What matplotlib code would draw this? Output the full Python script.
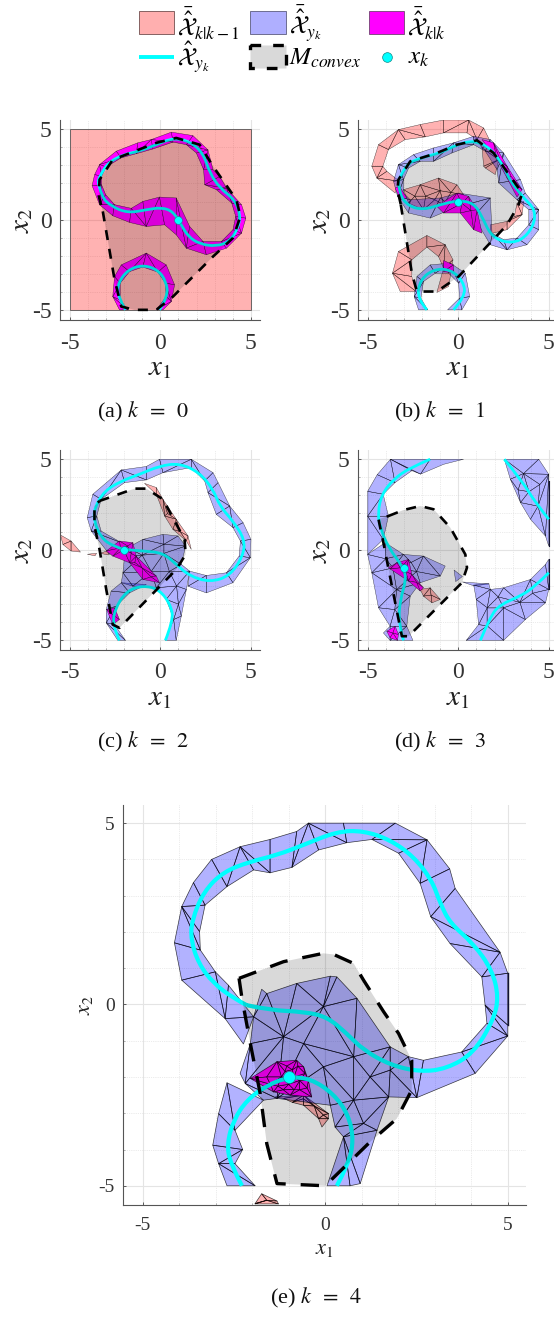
import numpy as np
import matplotlib
matplotlib.use('Agg')
import matplotlib.pyplot as plt
import matplotlib.tri as mtri
from matplotlib.collections import PolyCollection
from matplotlib.patches import Rectangle, Polygon, PathPatch
from matplotlib.path import Path

plt.rcParams['font.family'] = ['Liberation Serif', 'DejaVu Serif']
plt.rcParams['mathtext.fontset'] = 'stix'
plt.rcParams['axes.unicode_minus'] = False

W, H = 554, 1317
RED = (1, 0, 0, 0.3)
BLUE = (0, 0, 1, 0.3)
MAG = (1, 0, 1, 1)
CYAN = '#00FFFF'

ticks = [-5, 0, 5]
minor_ticks = [-4, -3, -2, -1, 1, 2, 3, 4]

# k = 0
a_marker = (1, 0)
a_square = [(-5, -5), (5, -5), (5, 5), (-5, 5)]
a_center = [(-3.43,2.12),(-3.26,1.29),(-2.71,0.74),(-1.79,0.37),(-0.77,0.55),(0.06,0.68),(0.70,0.46),(1.16,-0.28),
            (1.53,-0.92),(2.17,-1.34),(3.09,-1.47),(3.83,-1.20),(4.29,-0.46),(4.42,0.28),(4.11,1.10),(3.28,1.75),
            (2.73,2.58),(2.36,3.68),(1.62,4.33),(0.70,4.51),(-0.22,4.14),(-1.14,3.78),(-2.06,3.59),(-2.89,3.13),
            (-3.35,2.39),(-3.43,2.12)]
a_ring = [(-1.92,-4.97),(-2.34,-4.24),(-2.34,-3.50),(-1.79,-2.76),(-0.96,-2.49),(-0.13,-2.76),(0.33,-3.41),(0.42,-4.24),(-0.04,-4.97)]
a_mag_outer = [(-3.76,1.88),(-3.35,0.83),(-2.62,0.22),(-1.69,-0.15),(-0.77,-0.37),(0.24,-0.28),(0.88,-0.83),(1.44,-1.57),
               (2.54,-1.93),(3.65,-1.57),(4.48,-0.74),(4.72,0.09),(4.48,0.83),(3.65,1.75),(3.28,2.39),(2.91,2.76),
               (2.63,3.85),(1.80,4.64),(0.61,4.83),(-0.50,4.42),(-1.24,4.24),(-2.43,3.78),(-3.35,3.04),(-3.62,2.49),(-3.76,1.88)]
a_mag_inner = [(-3.24,1.93),(-3.01,1.38),(-2.52,0.83),(-1.60,0.63),(-0.96,1.01),(-0.04,1.25),(0.88,1.20),(1.62,-0.37),
               (2.36,-1.20),(3.37,-1.20),(4.01,-0.55),(4.16,0.18),(3.94,0.92),(3.09,1.66),(2.45,1.93),(2.39,2.76),
               (1.99,3.68),(1.44,4.14),(0.70,4.28),(-0.41,3.90),(-1.33,3.64),(-2.16,3.41),(-2.98,2.91),(-3.24,2.39),(-3.24,1.93)]
a_ring_outer = [(-2.25,-4.97),(-2.62,-4.24),(-2.52,-3.13),(-2.15,-2.49),(-0.77,-1.84),(0.33,-2.49),(0.79,-3.59),(0.61,-4.51),(0.15,-4.97)]
a_ring_inner = [(-1.79,-4.97),(-2.21,-4.42),(-2.21,-3.50),(-1.69,-2.86),(-0.96,-2.61),(-0.13,-2.89),(0.28,-3.50),(0.33,-4.24),(-0.22,-4.97)]
a_hull = [(-3.17,0.46),(-2.52,-3.31),(-2.15,-4.79),(-1.42,-4.97),(-0.22,-4.97),(0.70,-4.24),(2.91,-2.03),(4.01,-1.01),
          (4.42,0.18),(4.20,1.10),(2.91,2.95),(2.17,4.14),(0.88,4.51),(-0.22,4.24),(-2.62,3.31),(-3.35,2.21),(-3.39,1.29)]

# k = 1
b_marker = (0, 1)
b_center = [(-3.30,2.12),(-3.24,1.38),(-2.74,0.74),(-1.92,0.55),(-0.99,0.83),(0,1.07),(0.85,0.92),(1.31,0.18),(1.77,-0.83),
            (2.50,-1.25),(3.43,-1.20),(4.16,-0.37),(4.25,0.55),(3.61,1.20),(2.87,2.12),(2.50,2.95),(1.77,3.96),(0.85,4.38),
            (-0.07,4.14),(-0.99,3.68),(-2.10,3.41),(-2.93,3.04),(-3.30,2.12)]
b_ring = [(-1.73,-4.97),(-2.28,-4.33),(-2.10,-3.31),(-1.36,-2.73),(-0.44,-2.73),(0.29,-3.41),(0.39,-4.24),(-0.26,-4.97)]
b_blue_outer = [(-3.57,2.12),(-3.30,3.04),(-2.47,3.59),(-1.36,3.96),(-0.26,4.24),(0.85,4.60),(1.77,4.42),(2.50,3.68),(3.43,2.21),
                (3.70,1.47),(4.44,0.55),(4.44,-0.55),(3.79,-1.38),(2.69,-1.66),(1.77,-1.38),(0.85,0.18),(-0.26,0.64),(-1.55,0.09),
                (-2.74,0.37),(-3.35,1.29),(-3.57,2.12)]
b_blue_inner = [(-3.02,2.21),(-2.74,2.85),(-2.10,3.22),(-1.36,3.22),(-0.35,3.68),(0.85,4.14),(1.49,3.78),(2.14,2.76),(2.23,2.03),
                (3.24,1.10),(3.89,0.55),(3.89,-0.28),(3.24,-1.01),(2.50,-1.10),(1.86,-0.74),(1.77,1.20),(0.02,1.47),(-0.99,1.20),
                (-2.65,1.10),(-3.02,1.47),(-3.02,2.21)]
b_ring_outer = [(-2.19,-4.97),(-2.43,-4.24),(-2.28,-3.13),(-1.55,-2.49),(-0.44,-2.39),(0.39,-2.95),(0.63,-4.24),(0.20,-4.97)]
b_ring_inner = [(-1.69,-4.97),(-2.06,-4.33),(-1.92,-3.41),(-1.27,-2.95),(-0.53,-2.95),(0.02,-3.50),(0.07,-4.33),(-0.59,-4.97)]
b_red_outer = [(-3.48,1.47),(-4.49,2.30),(-4.77,2.95),(-4.40,4.14),(-3.30,4.97),(-2.10,5.25),(-0.81,5.5),(0.57,5.5),(1.40,5.06),(1.80,4.24),(2.23,3.31),(2.04,2.49)]
b_red_inner = [(-3.24,2.12),(-3.94,2.67),(-4.16,2.95),(-3.85,3.87),(-2.93,4.42),(-1.82,4.57),(-0.81,4.79),(0.48,4.79),(1.03,4.42),(1.31,3.96),(1.40,2.95),(1.49,2.85)]
b_red2_outer = [(3.61,1.01),(3.52,0.28),(2.69,-0.55),(1.77,-0.77)]
b_red2_inner = [(3.24,0.92),(3.09,0.18),(2.69,-0.09),(1.77,-0.28)]
b_red_ring_outer = [(-3.20,-3.96),(-3.63,-2.95),(-3.30,-1.75),(-1.73,-0.87),(-0.72,-1.38),(-0.29,-2.21),(-0.53,-3.68)]
b_red_ring_inner = [(-2.32,-3.96),(-2.56,-3.13),(-2.56,-2.21),(-1.73,-1.51),(-1.09,-2.03),(-0.81,-2.67),(-1.18,-4.01)]
b_red_blob = [(-3.02,1.66),(-2.10,1.93),(-1.09,2.30),(-0.07,1.93),(0.29,1.38),(-0.81,0.83),(-1.92,0.55),(-2.74,0.92)]
b_red_blob_in = [(-1.8,1.3),(-1,1.6),(-0.4,1.5),(-2.4,1.3),(-1.3,1.1)]
b_mag1 = [(-1.18,0.74),(-0.07,1.47),(0.57,1.29),(1.03,0.55),(1.31,-0.74),(0.85,-0.55),(0.11,0.37),(-0.81,0.37)]
b_mag1_in = [(0.2,0.9),(0.7,0.5)]
b_mag2 = [(1.31,4.42),(1.95,4.24),(2.69,2.95),(3.52,1.66),(3.24,1.25),(2.69,2.30),(2.14,3.31)]
b_mag2_in = [(2.3,3.3),(2.9,2.4)]
b_mag3 = [(-3.48,1.75),(-3.24,1.84),(-2.84,1.20),(-3.20,1.10)]
b_mag4 = [(-0.81,-2.25),(-0.26,-2.49),(-0.26,-2.95),(-0.81,-2.85)]
b_hull = [(-3.17,0.83),(-2.56,-2.95),(-2.28,-3.96),(-1.18,-3.96),(0.02,-3.13),(2.69,-0.28),(3.33,0.83),(3.52,1.47),(2.87,2.39),
          (1.95,3.68),(1.03,4.38),(-0.07,4.14),(-1.18,3.68),(-2.65,3.22),(-3.30,2.21),(-3.35,1.66)]

# k = 2
c_marker = (-2, 0)
c_center = [(-2.01,0.02),(-0.96,-0.07),(0.15,-0.17),(0.88,-0.81),(1.62,-1.45),(2.73,-1.79),(3.83,-1.45),(4.57,-0.35),(4.66,0.57),
            (4.01,1.58),(3.28,2.41),(2.91,3.33),(2.17,4.25),(1.07,4.77),(-0.04,4.62),(-1.14,4.16),(-2.15,3.79),(-3.08,3.24),
            (-3.63,2.32),(-3.66,1.58),(-3.26,0.66),(-2.62,0.20),(-2.01,0.02)]
c_ring = [(-2.25,-5.0),(-2.62,-4.22),(-2.52,-3.30),(-1.88,-2.28),(-0.96,-1.97),(-0.04,-2.19),(0.61,-3.11),(0.70,-3.94),(0.28,-5.0)]
c_blue_outer = [(-2.80,-0.26),(-3.81,1.03),(-4.03,1.77),(-3.72,3.06),(-2.15,4.40),(-0.77,4.59),(-0.04,4.99),(1.71,4.99),(2.91,4.25),
                (3.19,3.70),(3.83,2.41),(4.57,1.49),(5.0,0.57),(4.97,-0.44),(4.01,-1.82),(2.54,-2.38),(1.53,-2.01)]
c_blue_inner = [(-2.15,0.39),(-3.26,1.03),(-3.50,1.86),(-3.26,2.78),(-1.97,3.70),(-0.77,3.85),(0.15,4.25),(1.71,4.53),(2.45,3.79),
                (2.63,3.15),(3.09,1.95),(4.01,1.22),(4.42,0.48),(4.35,-0.35),(3.65,-1.27),(2.54,-1.42),(1.62,-1.18)]
c_arm_outer = [(-2.34,-5.0),(-2.98,-4.03),(-2.98,-3.30),(-2.71,-2.28),(-2.15,-1.82)]
c_arm_inner = [(-1.92,-5.0),(-2.52,-4.13),(-2.43,-3.11),(-1.69,-2.38),(-0.77,-1.92)]
c_blob = [(-1.97,-0.35),(-1.79,0.11),(-0.96,0.57),(0.15,0.85),(0.98,0.76),(1.40,0.20),(1.16,-0.81),(1.62,-1.18),(1.44,-2.19),
          (1.16,-3.66),(0.88,-5.0),(0.28,-5.0),(0.74,-3.85),(0.33,-2.74),(-0.22,-2.10),(-1.51,-2.01),(-2.15,-1.82),(-2.06,-1.27)]
c_blob_in = [(-1,-0.3),(0.2,-0.2),(-0.5,-1.2),(0.5,-1.2),(0.9,-2.0),(1.0,-3),(0.2,0.3)]
c_hull = [(-3.35,2.69),(-1.42,3.37),(-0.77,3.37),(0.15,2.78),(1.34,0.57),(1.40,-0.26),(0.88,-1.09),(-2.25,-4.31),(-2.62,-4.13),
          (-2.98,-2.19),(-3.35,0.02),(-3.63,1.31),(-3.63,2.41)]
c_mag1 = [(-2.98,-0.07),(-2.25,0.48),(-1.51,0.39),(-1.33,-0.35),(-0.22,-1.45),(-0.04,-1.82),(-0.96,-1.64),(-1.69,-0.72),(-2.62,-0.35)]
c_mag1_in = [(-2,0),(-1.6,-0.2),(-1.0,-1.0),(-0.5,-1.5),(-1.4,-0.7),(-2.2,0.1),(-1.8,0.2)]
c_mag2 = [(-2.95,-3.30),(-2.52,-3.20),(-2.25,-3.85),(-2.62,-4.13)]
c_mag2_in = [(-2.6,-3.6)]
c_red1 = [(-0.87,3.66),(-0.22,3.43),(0.15,2.78),(0.88,1.68),(1.53,0.76),(1.71,0.02),(1.44,0.48),(0.70,1.12),(0.24,1.86),(-0.22,3.06)]
c_red1_in = [(0.4,2.0),(1.1,1.0)]
c_red2 = [(-5.5,0.81),(-4.92,0.48),(-4.40,-0.13),(-4.92,-0.07),(-5.37,0.29)]
c_red3 = [(-4.05,-0.22),(-3.54,-0.17),(-3.63,-0.31)]
c_red4 = [(-3.35,-0.17),(-2.80,0.02),(-2.89,-0.26)]

# k = 3
d_marker = (-3, -1)
d_line1 = [(-1.55,4.99),(-2.65,4.53),(-3.57,3.89),(-4.22,3.06),(-4.44,2.04),(-4.31,1.22),(-3.85,0.11),(-3.02,-0.99),(-2.87,-1.64),(-3.20,-2.74),(-3.30,-4.03),(-3.02,-5.0)]
d_line2 = [(2.54,4.99),(3.52,3.79),(4.25,2.60),(4.99,1.68)]
d_line3 = [(1.22,-5.0),(1.77,-3.66),(2.32,-3.02),(3.43,-2.56),(4.25,-2.01),(4.99,-1.27)]
d_tube_outer = [(-5.0,-0.26),(-5.0,1.85),(-5.0,3.22),(-4.47,4.14),(-3.74,4.99),(-1.55,4.99),(0.29,4.99)]
d_tube_inner = [(-4.14,0.57),(-3.85,1.85),(-4.14,3.06),(-3.49,3.70),(-2.56,4.36),(-2.08,4.17),(-0.81,4.71)]
d_blob = [(-5.0,-0.26),(-4.03,0.39),(-3.02,-0.26),(-1.92,-0.35),(-0.72,-0.90),(-0.99,-1.45),(-2.10,-1.82),(-2.65,-2.56),(-2.84,-4.22),
          (-2.50,-5.0),(-3.76,-5.0),(-4.13,-4.59),(-3.76,-4.22),(-4.40,-3.20),(-4.77,-1.27)]
d_blob_in = [(-3.6,-1),(-2.6,-0.7),(-3.4,-2.2),(-2.3,-1.2),(-3.5,-3.3),(-4,-0.5)]
d_tri = [(-0.26,-1.09),(0.20,-1.45),(-0.17,-1.73)]
d_sliver = [(0.20,-1.75),(1.68,-1.86),(0.85,-1.97)]
d_low = [(0.44,-5.0),(1.12,-4.13),(0.99,-2.74),(0.85,-1.95),(1.68,-1.86),(1.77,-2.19),(2.50,-2.10),(3.98,-1.64),(4.81,-0.81),(4.99,-0.53),
         (4.99,-2.19),(4.81,-2.93),(3.70,-3.85),(2.50,-5.0)]
d_low_in = [(1.6,-3.2),(2.5,-3.2),(3.4,-2.9),(1.6,-4.2),(2.2,-2.6),(4.1,-2.4)]
d_top = [(2.54,4.99),(4.44,4.99),(4.99,4.16),(4.99,0.20),(4.81,0.75),(3.98,1.68),(3.43,2.60),(2.87,3.89)]
d_top_in = [(3.6,4.2),(3.9,3.2),(4.4,2.4),(4.5,3.6),(3.3,3.3)]
d_edge1 = [(4.99,3.8),(4.99,0.2)]
d_edge2 = [(4.99,-0.53),(4.99,-2.19)]
d_hull = [(-3.85,1.86),(-3.02,2.19),(-2.10,2.41),(-1.36,2.23),(-0.44,1.22),(0.39,-0.26),(0.48,-0.99),(0.20,-1.82),(-2.74,-4.77),(-3.11,-4.77),
          (-3.66,-2.01),(-4.13,0.39),(-4.40,1.68)]
d_mag1 = [(-3.85,-0.99),(-3.39,-0.72),(-2.74,-0.53),(-2.56,-1.36),(-1.92,-2.10),(-2.10,-2.28),(-2.74,-1.73),(-3.76,-1.06)]
d_mag1_in = [(-3.2,-1.0),(-2.9,-1.2),(-3.0,-0.8),(-2.3,-1.8)]
d_mag2 = [(-3.94,-4.49),(-3.48,-4.22),(-3.30,-4.68),(-3.35,-5.0),(-3.76,-4.86)]
d_mag2_in = [(-3.6,-4.6)]
d_red = [(-2.10,-2.19),(-1.55,-2.10),(-0.99,-2.74),(-1.45,-2.93),(-1.92,-2.56)]
d_red_in = [(-1.5,-2.5)]

# k = 4
e_marker = (-1, -2)
e_center = [(-2.15,-0.02),(-1.51,-0.16),(-0.59,-0.20),(0.05,-0.34),(0.59,-0.80),(1.05,-1.26),(1.78,-1.67),(2.60,-1.86),(3.33,-1.77),
            (4.06,-1.35),(4.61,-0.43),(4.75,0.21),(4.57,0.95),(4.06,1.68),(3.42,2.24),(3.15,2.79),(2.92,3.43),(2.42,4.08),(1.78,4.54),
            (1.05,4.79),(0.32,4.77),(-0.59,4.40),(-1.32,4.12),(-2.05,3.94),(-2.79,3.66),(-3.33,3.11),(-3.65,2.33),(-3.68,1.78),
            (-3.47,1.13),(-3.06,0.58),(-2.51,0.17),(-2.15,-0.02)]
e_ring = [(-2.28,-5.0),(-2.60,-4.39),(-2.69,-3.84),(-2.51,-3.19),(-2.15,-2.64),(-1.60,-2.23),(-1.00,-2.00),(-0.41,-2.04),(0.23,-2.46),(0.64,-3.05),(0.78,-3.74),(0.64,-4.39),(0.32,-5.0)]
e_blue_outer = [(-2.24,-1.09),(-2.74,-0.39),(-3.93,0.67),(-4.13,1.70),(-3.93,2.70),(-3.61,3.36),(-3.11,4.00),(-2.33,4.35),(-1.51,4.55),(-0.78,4.77),
                (-0.46,5.0),(0.50,5.0),(1.92,5.0),(2.79,4.54),(3.41,3.74),(3.56,3.20),(4.79,1.44),(5.0,0.86),(5.0,-0.57),(5.0,-0.87),(4.11,-1.90),(2.51,-2.57)]
e_blue_inner = [(-1.96,-0.34),(-2.65,0.53),(-3.01,0.90),(-3.42,1.50),(-3.44,2.01),(-3.29,2.74),(-2.69,3.25),(-1.96,3.71),(-1.51,3.63),(-0.91,3.78),
                (-0.18,4.26),(0.59,4.46),(1.28,4.55),(2.01,4.17),(2.60,3.34),(2.89,2.42),(3.42,1.68),(4.29,0.76),(4.38,-0.02),(4.43,-0.52),(3.74,-1.31),(2.69,-1.54)]
e_arm_outer = [(-2.69,-5.0),(-2.92,-4.39),(-3.08,-3.88),(-2.92,-3.01),(-2.69,-2.16)]
e_arm_inner = [(-1.92,-5.0),(-2.47,-4.39),(-2.26,-4.00),(-2.47,-3.47),(-1.69,-2.64)]
e_blob = [(-2.33,-1.90),(-2.05,-1.08),(-1.96,-0.34),(-1.74,0.42),(-1.60,0.30),(-0.78,0.58),(0.14,0.78),(0.32,0.76),(0.87,0.17),(1.78,-1.17),
          (2.28,-1.44),(2.69,-1.54),(2.51,-2.57),(1.74,-2.55),(1.42,-3.47),(0.96,-4.94),(0.68,-5.0),(0.05,-5.0),(0.50,-3.65),(0.27,-3.38),
          (0.14,-2.78),(-1.32,-2.59),(-1.69,-2.64),(-2.19,-2.18)]
e_blob_in = [(-0.59,-1.08),(-1.14,-0.89),(-0.05,-1.72),(0.78,-1.44),(1.23,-2.0),(1.05,-3.28),(-0.05,-0.06),(0.78,-2.64),(1.78,-1.81)]
e_edge = [(5.0,0.86),(5.0,-0.57)]
e_hull = [(-2.36,0.72),(-1.14,1.18),(-0.05,1.41),(0.23,1.38),(0.78,1.13),(1.05,0.67),(1.60,-0.20),(2.01,-0.80),(2.37,-1.54),(2.37,-2.36),
          (1.96,-3.15),(1.23,-3.79),(0,-5.0),(-1.32,-4.94),(-1.60,-3.84),(-1.78,-2.46),(-2.05,-1.08),(-2.28,0.17)]
e_mag = [(-2.05,-2.04),(-1.32,-1.58),(-0.78,-1.54),(-0.59,-1.72),(-0.46,-2.09),(-0.37,-2.55),(-0.96,-2.50),(-1.42,-2.41)]
e_mag_in = [(-1.2,-2.0),(-0.9,-1.8),(-0.7,-2.1),(-1.0,-2.2),(-0.7,-2.35),(-1.3,-2.25),(-1.6,-2.0),(-1.05,-1.7),
            (-1.5,-2.2),(-1.1,-1.85),(-0.85,-2.0),(-0.55,-1.9),(-0.85,-2.35),(-1.15,-2.35),(-0.75,-1.7),(-0.5,-2.3)]
e_red1 = [(-1.37,-2.55),(-0.59,-2.50),(0.09,-3.01),(0.09,-3.15),(-0.09,-3.38),(-0.18,-3.15),(-0.59,-2.78),(-1.14,-2.59)]
e_red1_in = [(-0.9,-2.7),(-0.3,-2.8),(-0.6,-2.6),(-0.05,-3.05)]
e_red2 = [(-1.92,-5.49),(-1.74,-5.22),(-1.32,-5.42),(-1.28,-5.5),(-1.92,-5.5)]
e_red2_in = [(-1.6,-5.4)]


def make_axes(fig, left, top, right, bottom):
    ax = fig.add_axes([left / W, 1 - bottom / H, (right - left) / W, (bottom - top) / H])
    ax.set_xlim(-5.53, 5.5)
    ax.set_ylim(-5.53, 5.5)
    return ax


def style_axes(ax, fs, label_fs, pad, xpad, ypad):
    ax.set_xticks(ticks)
    ax.set_yticks(ticks)
    ax.set_xticklabels([str(t) for t in ticks])
    ax.set_yticklabels([str(t) for t in ticks])
    ax.set_xticks(minor_ticks, minor=True)
    ax.set_yticks(minor_ticks, minor=True)
    ax.grid(which='major', color='#E4E4E4', lw=0.8)
    ax.grid(which='minor', color='#D8D8D8', lw=0.5, ls=':')
    ax.set_axisbelow(True)
    ax.tick_params(which='major', labelsize=fs, pad=pad, length=2.5, direction='in', width=0.6, color='#444444', labelcolor='#333333')
    ax.tick_params(axis='y', which='major', pad=pad - 3)
    ax.tick_params(which='minor', length=1.2, direction='in', width=0.4, color='#777777')
    ax.spines['top'].set_visible(False)
    ax.spines['right'].set_visible(False)
    ax.spines['left'].set_color('#555555')
    ax.spines['bottom'].set_color('#555555')
    ax.set_xlabel('$x_1$', fontsize=label_fs, labelpad=xpad, color='#222222')
    ax.set_ylabel('$x_2$', fontsize=label_fs, labelpad=ypad, color='#222222')


def draw_tube(ax, outer, inner, color, lw):
    # strip of cells between two boundaries, only some cells get a diagonal
    cells = []
    for i in range(len(outer) - 1):
        o0, o1, i0, i1 = outer[i], outer[i + 1], inner[i], inner[i + 1]
        if i % 3 == 0:
            cells += [[o0, o1, i0], [o1, i1, i0]]
        elif i % 3 == 1:
            cells += [[o0, i1, i0], [o0, o1, i1]]
        else:
            cells.append([o0, o1, i1, i0])
    ax.add_collection(PolyCollection(cells, facecolors=[color], edgecolors=[(0, 0, 0, 0.75)], linewidths=lw, zorder=2))


def draw_mesh(ax, outline, interior, color, lw):
    # triangles from the outline and some inside points, outside ones dropped
    pts = np.array(list(outline) + list(interior))
    path = Path(np.array(outline + [outline[0]]))
    tri = mtri.Triangulation(pts[:, 0], pts[:, 1])
    keep = []
    for t in tri.triangles:
        if path.contains_point(pts[t].mean(axis=0)):
            keep.append(pts[t])
    ax.add_collection(PolyCollection(keep, facecolors=[color], edgecolors=[(0, 0, 0, 0.75)], linewidths=lw, zorder=2))


def smooth_path(line):
    # quadratic bezier path, the read points act as control points
    verts = [line[0]]
    codes = [Path.MOVETO]
    for i in range(1, len(line) - 1):
        mid = ((line[i][0] + line[i + 1][0]) / 2, (line[i][1] + line[i + 1][1]) / 2)
        if i == len(line) - 2:
            mid = line[i + 1]
        verts += [line[i], mid]
        codes += [Path.CURVE3, Path.CURVE3]
    return Path(verts, codes)


def draw_top(ax, lines, hull, marker, lw, dash, dash_lw, ms):
    for line in lines:
        ax.add_patch(PathPatch(smooth_path(line), fill=False, edgecolor=CYAN, lw=lw, capstyle='butt', joinstyle='round', zorder=3))
    ax.add_patch(Polygon(hull, closed=True, facecolor=(0, 0, 0, 0.15), edgecolor='none', zorder=4))
    h = np.array(hull + [hull[0]])
    ax.plot(h[:, 0], h[:, 1], color='k', lw=dash_lw, ls=(0, dash), zorder=5, dash_capstyle='butt')
    ax.plot([marker[0]], [marker[1]], 'o', color=CYAN, ms=ms, mec='#118888', mew=0.4, zorder=6)


def draw_edge(ax, edge, lw):
    arr = np.array(edge)
    ax.plot(arr[:, 0], arr[:, 1], color='#111133', lw=lw, zorder=2)


fig = plt.figure(figsize=(W / 100, H / 100), dpi=100)

small_lw, small_dash, small_dash_lw = 2.0, (3.8, 3.4), 1.9
mesh_lw = 0.3

# panel a
ax = make_axes(fig, 60, 120, 260, 320)
ax.add_patch(Polygon(a_square, closed=True, facecolor=RED, edgecolor='#555555', lw=0.6, zorder=1))
draw_tube(ax, a_mag_outer, a_mag_inner, MAG, mesh_lw)
draw_tube(ax, a_ring_outer, a_ring_inner, MAG, mesh_lw)
draw_top(ax, [a_center, a_ring], a_hull, a_marker, small_lw, small_dash, small_dash_lw, 5.6)
style_axes(ax, 17, 21, 9, 1, -2)

# panel b
ax = make_axes(fig, 358, 120, 558, 320)
draw_tube(ax, b_red_outer, b_red_inner, RED, mesh_lw)
draw_tube(ax, b_red2_outer, b_red2_inner, RED, mesh_lw)
draw_tube(ax, b_red_ring_outer, b_red_ring_inner, RED, mesh_lw)
draw_mesh(ax, b_red_blob, b_red_blob_in, RED, mesh_lw)
draw_tube(ax, b_blue_outer, b_blue_inner, BLUE, mesh_lw)
draw_tube(ax, b_ring_outer, b_ring_inner, BLUE, mesh_lw)
draw_mesh(ax, b_mag1, b_mag1_in, MAG, mesh_lw)
draw_mesh(ax, b_mag2, b_mag2_in, MAG, mesh_lw)
draw_mesh(ax, b_mag3, [], MAG, mesh_lw)
draw_mesh(ax, b_mag4, [], MAG, mesh_lw)
draw_top(ax, [b_center, b_ring], b_hull, b_marker, small_lw, small_dash, small_dash_lw, 5.6)
style_axes(ax, 17, 21, 9, 1, -2)

# panel c
ax = make_axes(fig, 60, 450, 260, 650)
draw_mesh(ax, c_red1, c_red1_in, RED, mesh_lw)
draw_mesh(ax, c_red2, [], RED, mesh_lw)
draw_mesh(ax, c_red3, [], RED, mesh_lw)
draw_mesh(ax, c_red4, [], RED, mesh_lw)
draw_tube(ax, c_blue_outer, c_blue_inner, BLUE, mesh_lw)
draw_tube(ax, c_arm_outer, c_arm_inner, BLUE, mesh_lw)
draw_mesh(ax, c_blob, c_blob_in, BLUE, mesh_lw)
draw_mesh(ax, c_mag1, c_mag1_in, MAG, mesh_lw)
draw_mesh(ax, c_mag2, c_mag2_in, MAG, mesh_lw)
draw_top(ax, [c_center, c_ring], c_hull, c_marker, small_lw, small_dash, small_dash_lw, 5.6)
style_axes(ax, 17, 21, 9, 1, -2)

# panel d
ax = make_axes(fig, 358, 450, 558, 650)
draw_mesh(ax, d_red, d_red_in, RED, mesh_lw)
draw_tube(ax, d_tube_outer, d_tube_inner, BLUE, mesh_lw)
draw_mesh(ax, d_blob, d_blob_in, BLUE, mesh_lw)
draw_mesh(ax, d_tri, [], BLUE, mesh_lw)
draw_mesh(ax, d_sliver, [], BLUE, mesh_lw)
draw_mesh(ax, d_low, d_low_in, BLUE, mesh_lw)
draw_mesh(ax, d_top, d_top_in, BLUE, mesh_lw)
draw_edge(ax, d_edge1, 0.8)
draw_edge(ax, d_edge2, 0.8)
draw_mesh(ax, d_mag1, d_mag1_in, MAG, mesh_lw)
draw_mesh(ax, d_mag2, d_mag2_in, MAG, mesh_lw)
draw_top(ax, [d_line1, d_line2, d_line3], d_hull, d_marker, small_lw, small_dash, small_dash_lw, 5.6)
style_axes(ax, 17, 21, 9, 1, -2)

# panel e
ax = make_axes(fig, 123.3, 805, 526, 1205)
draw_mesh(ax, e_red1, e_red1_in, RED, 0.5)
draw_mesh(ax, e_red2, e_red2_in, RED, 0.5)
draw_tube(ax, e_blue_outer, e_blue_inner, BLUE, 0.5)
draw_tube(ax, e_arm_outer, e_arm_inner, BLUE, 0.5)
draw_mesh(ax, e_blob, e_blob_in, BLUE, 0.5)
draw_edge(ax, e_edge, 1.0)
draw_mesh(ax, e_mag, e_mag_in, MAG, 0.5)
draw_top(ax, [e_center, e_ring], e_hull, e_marker, 3.0, (5.5, 4.5), 2.4, 8.6)
style_axes(ax, 14, 16, 9, 4, 3)

# overlay in pixels for captions and legend
ov = fig.add_axes([0, 0, 1, 1], zorder=10)
ov.set_xlim(0, W)
ov.set_ylim(H, 0)
ov.axis('off')

for label, cx, cy in [(r'(a) $k\;\;=\;\;0$', 143, 412), (r'(b) $k\;\;=\;\;1$', 440, 412), (r'(c) $k\;\;=\;\;2$', 143, 742),
                      (r'(d) $k\;\;=\;\;3$', 440, 742), (r'(e) $k\;\;=\;\;4$', 316, 1298)]:
    ov.text(cx, cy, label, fontsize=16, ha='center', va='center', color='#111111')

ov.add_patch(Rectangle((139, 11), 35, 23, facecolor='#FFAFAF', edgecolor='#553333', lw=0.5))
ov.add_patch(Rectangle((249.5, 11), 36, 23, facecolor='#AFAFFF', edgecolor='#444466', lw=0.5))
ov.add_patch(Rectangle((369, 11), 35, 23, facecolor='#FF00FF', edgecolor='#553355', lw=0.5))
ov.plot([139, 174], [57, 57], color=CYAN, lw=2.8, solid_capstyle='butt')
ov.add_patch(Rectangle((250, 45), 36, 23, facecolor='#D9D9D9', edgecolor='k', lw=2.4, ls=(0, (3.2, 3.6))))
ov.plot([387], [57], 'o', color=CYAN, ms=7, mec='#118888', mew=0.5)

leg_fs = 18
ov.text(177, 24, r'$\bar{\hat{\mathcal{X}}}_{k|k-1}$', fontsize=leg_fs, va='center', ha='left')
ov.text(289, 24, r'$\bar{\hat{\mathcal{X}}}_{y_k}$', fontsize=leg_fs, va='center', ha='left')
ov.text(407, 24, r'$\bar{\hat{\mathcal{X}}}_{k|k}$', fontsize=leg_fs, va='center', ha='left')
ov.text(177, 58, r'$\hat{\mathcal{X}}_{y_k}$', fontsize=leg_fs, va='center', ha='left')
ov.text(289, 58, r'$M_{convex}$', fontsize=leg_fs, va='center', ha='left')
ov.text(408, 58, r'$x_k$', fontsize=leg_fs, va='center', ha='left')

fig.savefig('out.png', dpi=100)
